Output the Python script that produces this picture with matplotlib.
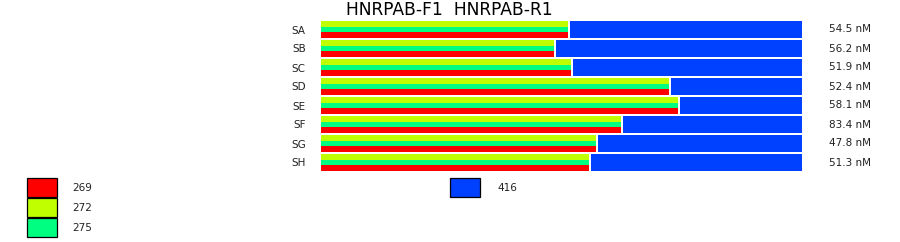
import matplotlib
matplotlib.use("Agg")
import matplotlib.pyplot as plt
from matplotlib.patches import Rectangle

# ── data ────────────────────────────────────────────────────────────────────
samples = ["SA", "SB", "SC", "SD", "SE", "SF", "SG", "SH"]
# share of each row (percent) taken by the 269/272/275 stripes; 416 takes the rest
primer_pct = [51.4, 48.4, 52.0, 72.3, 74.2, 62.4, 57.2, 55.7]
conc_labels = ["54.5 nM", "56.2 nM", "51.9 nM", "52.4 nM",
               "58.1 nM", "83.4 nM", "47.8 nM", "51.3 nM"]

stripe_series = ["272", "275", "269"]          # top -> bottom inside a row
legend_left = ["269", "272", "275"]
legend_right = ["416"]
colors = {"269": "#ff0000", "272": "#c0ff00", "275": "#00ff80", "416": "#0040ff"}

W, H = 900, 242
fig = plt.figure(figsize=(W / 100, H / 100), dpi=100)


def px_box(x0, y0, x1, y1):
    """pixel box (top-left origin) -> figure fraction rect"""
    return [x0 / W, 1 - y1 / H, (x1 - x0) / W, (y1 - y0) / H]


ax = fig.add_axes(px_box(321, 20, 802, 172))
ax.set_xlim(0, 100)
ax.set_ylim(len(samples) - 0.5, -0.5)

row_h = 17 / 19
stripe_h = row_h / 3
gap = 2 / 481 * 100  # white gap between stripes and the 416 bar

for i, pct in enumerate(primer_pct):
    top = i - row_h / 2
    for k, name in enumerate(stripe_series):
        ax.barh(top + stripe_h * (k + 0.5), pct, height=stripe_h,
                color=colors[name], linewidth=0, antialiased=False)
    ax.barh(i, 100 - pct - gap, left=pct + gap, height=row_h,
            color=colors["416"], linewidth=0, antialiased=False)
    ax.annotate(conc_labels[i], xy=(1, i), xycoords=("axes fraction", "data"),
                xytext=(27, 0), textcoords="offset pixels",
                ha="left", va="center", fontsize=7.5, color="#222222")

ax.set_yticks(range(len(samples)))
ax.set_yticklabels(samples, fontsize=7.5, color="#222222")
ax.tick_params(axis="y", length=0, pad=11)
ax.set_xticks([])
for s in ax.spines.values():
    s.set_visible(False)

fig.text(449 / W, 1 - 10 / H, "HNRPAB-F1  HNRPAB-R1",
         ha="center", va="center", fontsize=12.3)

# ── legend ──────────────────────────────────────────────────────────────────
for j, name in enumerate(legend_left):
    y0 = 178 + 20 * j
    fig.add_artist(Rectangle((27 / W, 1 - (y0 + 19) / H), 30 / W, 19 / H,
                             transform=fig.transFigure, facecolor=colors[name],
                             edgecolor="black", linewidth=0.9))
    fig.text(72 / W, 1 - (y0 + 10) / H, name, ha="left", va="center",
             fontsize=7.5, color="#222222")

for j, name in enumerate(legend_right):
    y0 = 178 + 20 * j
    fig.add_artist(Rectangle((450 / W, 1 - (y0 + 19) / H), 30 / W, 19 / H,
                             transform=fig.transFigure, facecolor=colors[name],
                             edgecolor="black", linewidth=0.9))
    fig.text(497 / W, 1 - (y0 + 10) / H, name, ha="left", va="center",
             fontsize=7.5, color="#222222")

fig.savefig("out.png", dpi=100)
plt.close(fig)
